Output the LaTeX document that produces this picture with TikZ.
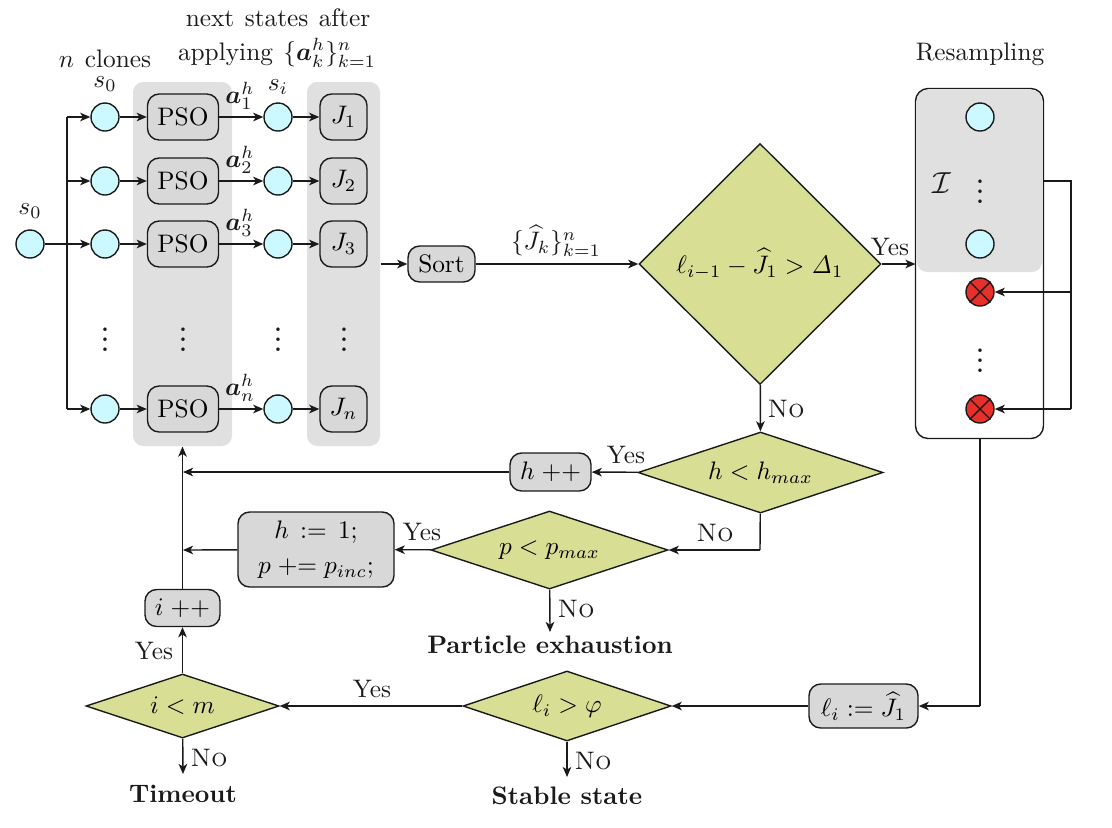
\documentclass[tikz,border=0pt]{standalone}
\usepackage{amsmath,amssymb}
\usetikzlibrary{shapes.geometric,arrows.meta,calc}
\definecolor{cyanfill}{HTML}{CCF9FF}
\definecolor{boxgray}{HTML}{D8D8D8}
\definecolor{panelgray}{HTML}{E0E0E0}
\definecolor{olive}{HTML}{D8DF94}
\definecolor{redfill}{HTML}{E8302A}
\definecolor{ink}{HTML}{1A1A1A}
\newcommand{\uu}{0.395pt}
\tikzset{
  statec/.style={circle,draw=ink,fill=cyanfill,minimum size=28*\uu,inner sep=0pt,line width=0.55pt},
  redbase/.style={circle,draw=ink,fill=redfill,minimum size=28*\uu,inner sep=0pt,line width=0.55pt},
  gbox/.style={draw=ink,fill=boxgray,rounded corners=4.6pt,inner sep=0pt,line width=0.55pt,align=center},
  panel/.style={fill=panelgray,rounded corners=4pt,inner sep=0pt,draw=none},
  dia/.style={diamond,draw=ink,fill=olive,inner sep=0pt,line width=0.55pt},
  lab/.style={inner sep=0pt,text=ink},
  conn/.style={line width=0.55pt,draw=ink,-{Stealth[length=4pt,width=3.4pt,inset=1.1pt]}},
  plain/.style={line width=0.55pt,draw=ink},
  outcome/.style={inner sep=0pt,text=ink,font=\bfseries},
  bigdots/.style={inner sep=0pt,text=ink,font=\Large}
}
\begin{document}
\begin{tikzpicture}[x=\uu,y=-\uu]
\useasboundingbox (0,0) rectangle (1112,827);
% panels
\node[panel,minimum width=99*\uu,minimum height=364*\uu] (p1) at (182.5,264) {};
\node[panel,minimum width=73*\uu,minimum height=364*\uu] (p2) at (343.5,264) {};
% left graph
\node[statec] (s) at (30,244) {};
\coordinate (trunkm) at (67,244);
\coordinate (trunkt) at (67,117);
\coordinate (trunkb) at (67,409);
\coordinate (trunkc) at (67,181);
\foreach \k/\y/\J/\A in {1/117/J_1/\boldsymbol{a}_1^h,2/181/J_2/\boldsymbol{a}_2^h,3/244/J_3/\boldsymbol{a}_3^h,n/409/J_n/\boldsymbol{a}_n^h}{
  \node[gbox,minimum width=71*\uu,minimum height=46*\uu] (pso\k) at (183,\y) {PSO};
  \node[statec] (c\k) at (105,\y) {};
  \node[statec] (d\k) at (278,\y) {};
  \node[gbox,minimum width=47*\uu,minimum height=46*\uu] (j\k) at (343.5,\y) {$\J$};
  \node[lab] (a\k) at (240,\y-21) {$\A$};
  \draw[conn] (c\k) -- (pso\k);
  \draw[conn] (pso\k) -- (d\k);
  \draw[conn] (d\k) -- (j\k);
}
\draw[plain] (s) -- (trunkm);
\draw[plain] (trunkt) -- (trunkb);
\draw[conn] (trunkt) -- (c1);
\draw[conn] (trunkc) -- (c2);
\draw[conn] (trunkm) -- (c3);
\draw[conn] (trunkb) -- (cn);
\foreach \n/\x in {v1/105,v2/183,v3/278,v4/344}{
  \node[bigdots] (\n) at (\x,332) {$\vdots$};
}
\node[lab] (ts0a) at (30,211) {$s_0$};
\node[lab] (ts0b) at (105,84) {$s_0$};
\node[lab] (tsi) at (278,87) {$s_i$};
\node[lab] (tclones) at (105,59) {$n$\kern1pt\ clones};
\node[lab] (tnext) at (278,18) {next\kern0.8pt\ states\kern0.8pt\ after};
\node[lab] (tappl) at (277,53) {applying\kern0.8pt\ $\{\boldsymbol{a}_k^h\}_{k=1}^n$};
% sort and main decision
\node[gbox,minimum width=67*\uu,minimum height=36*\uu] (sort) at (441.5,264) {Sort};
\node[dia,minimum width=242*\uu,minimum height=241*\uu] (d1) at (760,264) {$\ell_{i-1}-\widehat{J}_1>\mathit{\Delta}_1$};
\draw[conn] (p2.east) -- (sort);
\draw[conn] (sort) -- (d1);
\node[lab] (tJ) at (556,241) {$\{\widehat{J}_k\}_{k=1}^n$};
% resampling
\node[rounded corners=5pt,minimum width=127*\uu,minimum height=349*\uu,inner sep=0pt] (rs) at (979.5,263.5) {};
\fill[panelgray,rounded corners=4pt] (917,90) rectangle (1042,272);
\draw[line width=0.55pt,draw=ink,rounded corners=5pt] (rs.north west) rectangle (rs.south east);
\node[statec] (r1) at (980,117) {};
\node[statec] (r2) at (980,244) {};
\node[redbase] (x1) at (980,292) {};
\node[redbase] (x2) at (980,409) {};
\draw[plain] (x1.45) -- (x1.225) (x1.135) -- (x1.315);
\draw[plain] (x2.45) -- (x2.225) (x2.135) -- (x2.315);
\node[bigdots] (rd1) at (980,184) {$\vdots$};
\node[bigdots] (rd2) at (980,353) {$\vdots$};
\node[lab,font=\large] (tI) at (942,183) {$\mathcal{I}$};
\node[lab] (tres) at (980,54) {Resampling};
\draw[conn] (d1) -- (rs.west|-d1);
\node[lab] (ty1) at (890,247) {Yes};
\coordinate (fb0) at (1043,181);
\coordinate (fb1) at (1071,181);
\coordinate (fb2) at (1071,409);
\coordinate (fb3) at (1071,292);
\draw[plain] (fb0) -- (fb1) -- (fb2);
\draw[conn] (fb3) -- (x1);
\draw[conn] (fb2) -- (x2);
% second row
\node[dia,aspect=3.02,minimum width=245*\uu,minimum height=81*\uu] (d2) at (760.5,472.5) {$h<h_{max}$};
\node[gbox,minimum width=81*\uu,minimum height=38*\uu] (hpp) at (550.5,472) {$h\;{+}{+}$};
\draw[conn] (d1) -- (d2);
\node[lab] (tn1) at (786,409) {\textsc{No}};
\draw[conn] (d2) -- (hpp);
\node[lab] (ty2) at (626,455) {Yes};
\coordinate (up1) at (183,472);
\draw[conn] (hpp) -- (up1);
% third row
\node[dia,aspect=3.04,minimum width=237*\uu,minimum height=78*\uu] (d3) at (549.5,550) {$p<p_{max}$};
\node[gbox,minimum width=156*\uu,minimum height=75*\uu] (hset) at (316,549.5) {$h\,:=\,1;$\\[2pt]$p\mathrel{+}=p_{inc};$};
\coordinate (d2turn) at (760,550);
\draw[plain] (d2) -- (d2turn);
\draw[conn] (d2turn) -- (d3);
\node[lab] (tn2) at (715,533) {\textsc{No}};
\draw[conn] (d3) -- (hset);
\node[lab] (ty3) at (422,532) {Yes};
\coordinate (up2) at (183,550);
\draw[conn] (hset) -- (up2);
\coordinate (endp) at (550,632);
\draw[conn] (d3) -- (endp);
\node[lab] (tn3) at (576,609) {\textsc{No}};
\node[outcome] (tpart) at (550,645) {Particle exhaustion};
% i++
\node[gbox,minimum width=75*\uu,minimum height=37*\uu] (ipp) at (182.5,608) {$i\;{+}{+}$};
\draw[conn] (ipp) -- (p1.south);
% bottom row
\node[dia,aspect=3.02,minimum width=193*\uu,minimum height=64*\uu] (d4) at (182.5,706) {$i<m$};
\node[dia,aspect=2.97,minimum width=208*\uu,minimum height=70*\uu] (d5) at (567,706) {$\ell_i>\varphi$};
\node[gbox,minimum width=109*\uu,minimum height=44*\uu] (lset) at (863.5,706) {$\ell_i:=\widehat{J}_1$};
\coordinate (rturn) at (980,706);
\draw[plain] (rs.south-|rturn) -- (rturn);
\draw[conn] (rturn) -- (lset);
\draw[conn] (lset) -- (d5);
\draw[conn] (d5) -- (d4);
\node[lab] (ty4) at (372,689) {Yes};
\draw[conn] (d4) -- (ipp);
\node[lab] (ty5) at (154,651) {Yes};
\coordinate (endt) at (183,774);
\coordinate (ends) at (567,777);
\draw[conn] (d4) -- (endt);
\draw[conn] (d5) -- (ends);
\node[lab] (tn4) at (209,758) {\textsc{No}};
\node[lab] (tn5) at (593,761) {\textsc{No}};
\node[outcome] (ttime) at (183,794) {Timeout};
\node[outcome] (tstab) at (567,796) {Stable state};
\end{tikzpicture}
\end{document}
